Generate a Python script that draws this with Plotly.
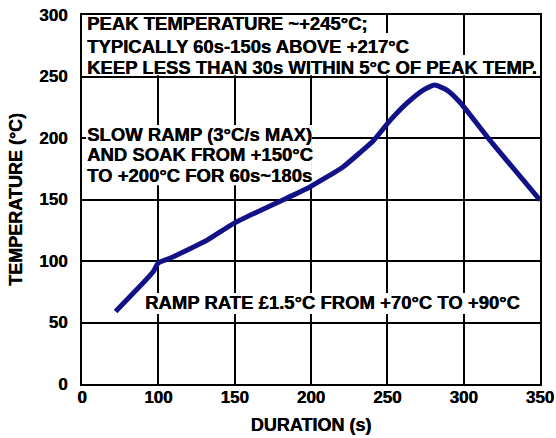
import plotly.graph_objects as go

# ---- data ----
duration_s = [72, 96.5, 100, 108, 132, 150, 184, 199, 221, 232, 241, 252, 263,
              273.5, 281, 289, 298, 317, 350]
temperature_c = [59, 91, 98.5, 102.5, 117, 131, 151, 160, 176.5, 188, 198, 214.5,
                 228.5, 239, 243, 239, 228.5, 198.5, 149.5]

x_tick_vals = [50, 100, 150, 200, 250, 300, 350]
x_tick_text = ["0", "100", "150", "200", "250", "300", "350"]
y_tick_vals = [0, 50, 100, 150, 200, 250, 300]

top_note = ["PEAK TEMPERATURE ~+245°C;",
            "TYPICALLY 60s-150s ABOVE +217°C",
            "KEEP LESS THAN 30s WITHIN 5°C OF PEAK TEMP."]
mid_note = ["SLOW RAMP (3°C/s MAX)",
            "AND SOAK FROM +150°C",
            "TO +200°C FOR 60s~180s"]
low_note = "RAMP RATE £1.5°C FROM +70°C TO +90°C"

FONT = "Liberation Sans, Arial, Helvetica, sans-serif"
LINE_COLOR = "#111188"
SHADOW = "0.4px 0 0 #000"

fig = go.Figure()
fig.add_trace(go.Scatter(
    x=duration_s, y=temperature_c, mode="lines",
    line=dict(color=LINE_COLOR, width=5, shape="spline", smoothing=0.5),
    hoverinfo="skip", showlegend=False,
))

# white backgrounds hiding the grid behind the notes (between grid and traces)
bg_boxes = [
    (50, 242.6, 285.4, 300),
    (50, 266.8, 267.5, 285.4),
    (50, 348.7, 251, 267.5),
    (52.6, 200.6, 161.5, 210.5),
    (89.3, 338.2, 56.9, 74),
]
for x0, x1, y0, y1 in bg_boxes:
    fig.add_shape(type="rect", xref="x", yref="y", x0=x0, x1=x1, y0=y0, y1=y1,
                  fillcolor="white", line=dict(width=0), layer="between")

note_font = dict(family=FONT, size=18.5, color="black", weight="bold", shadow=SHADOW)
for txt, yv in zip(top_note, [293, 274.8, 257.7]):
    fig.add_annotation(x=52.6, y=yv, xref="x", yref="y", text=txt, showarrow=False,
                       xanchor="left", yanchor="middle", font=note_font, borderpad=0)
for txt, yv in zip(mid_note, [202.5, 186.2, 169.8]):
    fig.add_annotation(x=52.6, y=yv, xref="x", yref="y", text=txt, showarrow=False,
                       xanchor="left", yanchor="middle", font=note_font, borderpad=0)
fig.add_annotation(x=90.3, y=65.9, xref="x", yref="y", text=low_note, showarrow=False,
                   xanchor="left", yanchor="middle", font=note_font, borderpad=0)

axis_common = dict(
    showgrid=True, gridcolor="black", gridwidth=2,
    showline=True, linecolor="black", linewidth=2, mirror=True,
    zeroline=False, ticks="", fixedrange=True,
    tickfont=dict(family=FONT, size=17, color="black", weight="bold", shadow=SHADOW),
)
title_font = dict(family=FONT, size=18, color="black", weight="bold", shadow=SHADOW)
fig.update_xaxes(
    range=[50, 350], tickmode="array", tickvals=x_tick_vals, ticktext=x_tick_text,
    ticklabelstandoff=-3,
    title=dict(text="DURATION (s)", font=title_font, standoff=12),
    **axis_common,
)
fig.update_yaxes(
    range=[0, 300], tickmode="array", tickvals=y_tick_vals,
    ticklabelstandoff=9,
    title=dict(text="TEMPERATURE (°C)", font=title_font, standoff=12),
    **axis_common,
)
fig.update_layout(
    width=556, height=438,
    margin=dict(l=82, r=16, t=15, b=54, autoexpand=False),
    paper_bgcolor="white", plot_bgcolor="white",
    showlegend=False,
)
fig.write_html("out.html", include_plotlyjs=True, config={"displayModeBar": False},
               post_script="document.body.style.margin='0';document.body.style.overflow='hidden';")
